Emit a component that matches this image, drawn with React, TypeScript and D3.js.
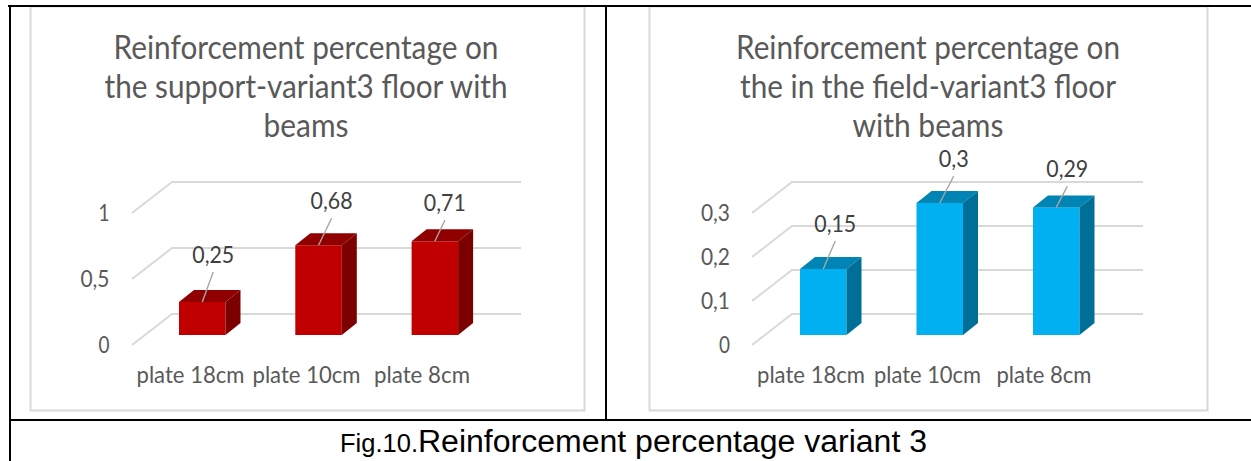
import React from "react";
import * as d3 from "d3";

const categories = ["plate 18cm", "plate 10cm", "plate 8cm"];

const leftTitle = ["Reinforcement percentage on", "the support-variant3 floor with", "beams"];
const leftValues = [0.25, 0.68, 0.71];
const leftLabels = ["0,25", "0,68", "0,71"];
const leftTicks = [0, 0.5, 1];
const leftTickLabels = ["0", "0,5", "1"];

const rightTitle = ["Reinforcement percentage on", "the in the field-variant3 floor", "with beams"];
const rightValues = [0.15, 0.3, 0.29];
const rightLabels = ["0,15", "0,3", "0,29"];
const rightTicks = [0, 0.1, 0.2, 0.3];
const rightTickLabels = ["0", "0,1", "0,2", "0,3"];

const FONT = "Lato, Carlito, 'Open Sans', sans-serif";
const TEXT = "#595959";

type Offset = { dx: number; leader: number };

type PanelProps = {
  box: [number, number, number, number];
  titleCx: number;
  titleWidths: number[];
  title: string[];
  values: number[];
  labels: string[];
  ticks: number[];
  tickLabels: string[];
  yMax: number;
  frontX: number;
  rightX: number;
  barX0: number;
  barStep: number;
  tickRight: number;
  labelOffsets: Offset[];
  catCenters: number[];
  catWidths: number[];
  front: string;
  top: string;
  side: string;
};

function Panel(p: PanelProps) {
  const yScale = d3.scaleLinear().domain([0, p.yMax]).range([335, 203]);
  const barW = 46.5;
  const bx = 15;
  const by = 12;
  const gx = 40;
  const gy = 31;
  const gridOffset = 10;
  const line = d3.line();
  return (
    <g>
      <rect
        x={p.box[0]}
        y={p.box[1]}
        width={p.box[2] - p.box[0]}
        height={p.box[3] - p.box[1]}
        fill="#fff"
        stroke="#d9d9d9"
        strokeWidth={2}
      />
      {p.title.map((t, i) => (
        <text
          key={t}
          x={p.titleCx}
          y={59 + i * 39}
          textAnchor="middle"
          fontFamily={FONT}
          fontSize={33}
          fill={TEXT}
          textLength={p.titleWidths[i]}
          lengthAdjust="spacingAndGlyphs"
        >
          {t}
        </text>
      ))}
      {p.ticks.map((t, i) => {
        const yFront = yScale(t) + gridOffset;
        const path = line([
          [p.frontX, yFront],
          [p.frontX + gx, yFront - gy],
          [p.rightX, yFront - gy],
        ]);
        const label = p.tickLabels[i];
        return (
          <g key={t}>
            <path d={path ?? ""} fill="none" stroke="#d9d9d9" strokeWidth={2} />
            <text
              x={p.tickRight}
              y={yFront + 8}
              textAnchor="end"
              fontFamily={FONT}
              fontSize={23}
              fill={TEXT}
              textLength={label.length === 3 ? 29 : 11}
              lengthAdjust="spacingAndGlyphs"
            >
              {label}
            </text>
          </g>
        );
      })}
      {p.values.map((v, i) => {
        const x = p.barX0 + i * p.barStep;
        const yTop = yScale(v);
        const y0 = yScale(0);
        const cx = x + barW / 2;
        const o = p.labelOffsets[i];
        const tipX = cx + o.dx;
        const tipY = yTop - o.leader;
        return (
          <g key={categories[i]}>
            <rect x={x} y={yTop} width={barW} height={y0 - yTop} fill={p.front} />
            <path
              d={line([
                [x, yTop],
                [x + bx, yTop - by],
                [x + barW + bx, yTop - by],
                [x + barW, yTop],
              ]) ?? ""}
              fill={p.top}
            />
            <path
              d={line([
                [x + barW, yTop],
                [x + barW + bx, yTop - by],
                [x + barW + bx, y0 - by],
                [x + barW, y0],
              ]) ?? ""}
              fill={p.side}
            />
            <line x1={cx} y1={yTop} x2={tipX} y2={tipY} stroke="#a6a6a6" strokeWidth={1.4} />
            <text
              x={tipX}
              y={tipY - 9}
              textAnchor="middle"
              fontFamily={FONT}
              fontSize={23}
              fill="#404040"
              textLength={p.labels[i].length === 3 ? 30 : 42}
              lengthAdjust="spacingAndGlyphs"
            >
              {p.labels[i]}
            </text>
            <text
              x={p.catCenters[i]}
              y={383}
              textAnchor="middle"
              fontFamily={FONT}
              fontSize={23}
              fill={TEXT}
              textLength={p.catWidths[i]}
              lengthAdjust="spacingAndGlyphs"
            >
              {categories[i]}
            </text>
          </g>
        );
      })}
    </g>
  );
}

export default function App() {
  return (
    <svg
      width={1251}
      height={461}
      style={{ position: "absolute", left: 0, top: 0, display: "block", background: "#fff" }}
    >
      <Panel
        box={[30.5, 6.5, 584.5, 410.5]}
        titleCx={306}
        titleWidths={[385, 403, 85]}
        title={leftTitle}
        values={leftValues}
        labels={leftLabels}
        ticks={leftTicks}
        tickLabels={leftTickLabels}
        yMax={1}
        frontX={132}
        rightX={521}
        barX0={179}
        barStep={116.3}
        tickRight={109.5}
        labelOffsets={[
          { dx: 11, leader: 30 },
          { dx: 13, leader: 27 },
          { dx: 10, leader: 21 },
        ]}
        catCenters={[190.5, 306.5, 422]}
        catWidths={[108, 108, 96]}
        front="#c00000"
        top="#900000"
        side="#7d0000"
      />
      <Panel
        box={[649.5, 6.5, 1207.5, 410.5]}
        titleCx={928}
        titleWidths={[384, 376, 151]}
        title={rightTitle}
        values={rightValues}
        labels={rightLabels}
        ticks={rightTicks}
        tickLabels={rightTickLabels}
        yMax={0.3}
        frontX={752}
        rightX={1143}
        barX0={800}
        barStep={116.5}
        tickRight={730}
        labelOffsets={[
          { dx: 12, leader: 28 },
          { dx: 14, leader: 27 },
          { dx: 11, leader: 21 },
        ]}
        catCenters={[811, 927.5, 1044]}
        catWidths={[108, 107, 95]}
        front="#00b0f0"
        top="#0084b4"
        side="#006f98"
      />
      <g stroke="#000" strokeWidth={2}>
        <line x1={8} y1={6} x2={1251} y2={6} />
        <line x1={10} y1={6} x2={10} y2={461} />
        <line x1={606} y1={6} x2={606} y2={420} />
        <line x1={10} y1={420} x2={1251} y2={420} />
      </g>
      <text x={340} y={452} fontFamily="'Liberation Sans', Arial, sans-serif" fontSize={25} fill="#000" textLength={78} lengthAdjust="spacingAndGlyphs">
        Fig.10.
      </text>
      <text x={418} y={452} fontFamily="'Liberation Sans', Arial, sans-serif" fontSize={31} fill="#000" textLength={509} lengthAdjust="spacingAndGlyphs">
        Reinforcement percentage variant 3
      </text>
    </svg>
  );
}
